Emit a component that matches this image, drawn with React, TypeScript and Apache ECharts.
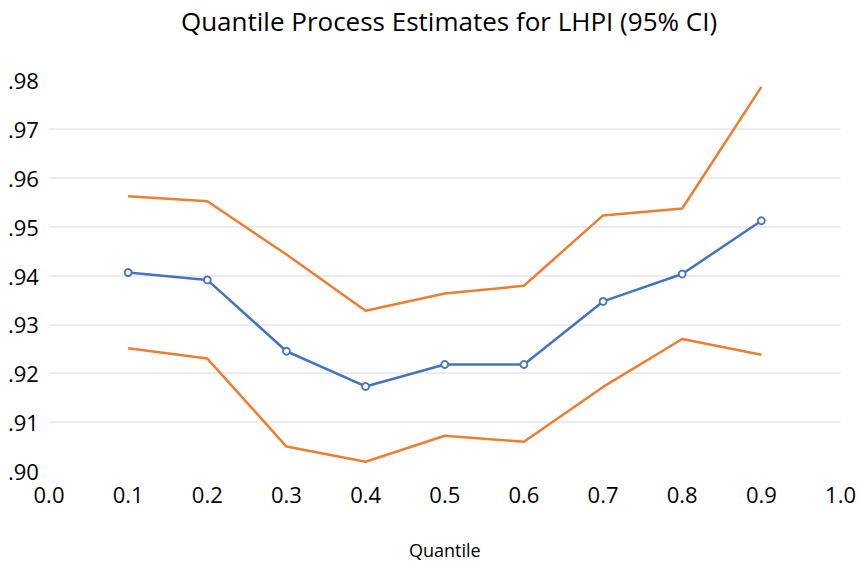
import React, { useEffect, useRef } from "react";
import * as echarts from "echarts";

const quantiles = [0.1, 0.2, 0.3, 0.4, 0.5, 0.6, 0.7, 0.8, 0.9];
const estimate = [0.9406, 0.9391, 0.9245, 0.9173, 0.9218, 0.9218, 0.9347, 0.9403, 0.9512];
const upper = [0.9562, 0.9552, 0.9443, 0.9328, 0.9363, 0.9379, 0.9523, 0.9537, 0.9786];
const lower = [0.9251, 0.9230, 0.9050, 0.9019, 0.9072, 0.9060, 0.9172, 0.9270, 0.9238];

const FONT = "Open Sans";

export default function App() {
  const ref = useRef<HTMLDivElement>(null);
  useEffect(() => {
    if (!ref.current) return;
    const chart = echarts.init(ref.current, null, { renderer: "svg" });
    const pair = (arr: number[]) => quantiles.map((q, i) => [q, arr[i]]);
    chart.setOption({
      animation: false,
      backgroundColor: "#ffffff",
      title: {
        text: "Quantile Process Estimates for LHPI (95% CI)",
        left: 444,
        textAlign: "center",
        top: 3,
        textStyle: { fontFamily: FONT, fontSize: 26, fontWeight: "normal", color: "#000" },
      },
      grid: { left: 49, right: 18, top: 80, bottom: 89.5, containLabel: false },
      xAxis: {
        type: "value",
        min: 0,
        max: 1,
        interval: 0.1,
        name: "Quantile",
        nameLocation: "middle",
        nameGap: 70,
        nameTextStyle: { fontFamily: FONT, fontSize: 18, color: "#000" },
        axisLine: { show: false },
        axisTick: { show: false },
        splitLine: { show: false },
        axisLabel: {
          margin: 12,
          fontFamily: FONT,
          fontSize: 22,
          color: "#000",
          formatter: (v: number) => v.toFixed(1),
        },
      },
      yAxis: {
        type: "value",
        min: 0.9,
        max: 0.98,
        interval: 0.01,
        axisLine: { show: false },
        axisTick: { show: false },
        splitLine: {
          show: true,
          showMinLine: false,
          showMaxLine: false,
          lineStyle: { color: "#e6e6e6", width: 1.5 },
        },
        axisLabel: {
          align: "left",
          margin: 41,
          fontFamily: FONT,
          fontSize: 22,
          color: "#000",
          formatter: (v: number) => "." + Math.round(v * 100).toString().padStart(2, "0"),
        },
      },
      series: [
        {
          name: "Upper",
          type: "line",
          data: pair(upper),
          showSymbol: false,
          symbol: "none",
          lineStyle: { color: "#ED7D31", width: 2.5 },
          itemStyle: { color: "#ED7D31" },
        },
        {
          name: "Lower",
          type: "line",
          data: pair(lower),
          showSymbol: false,
          symbol: "none",
          lineStyle: { color: "#ED7D31", width: 2.5 },
          itemStyle: { color: "#ED7D31" },
        },
        {
          name: "Estimate",
          type: "line",
          data: pair(estimate),
          symbol: "circle",
          symbolSize: 7,
          lineStyle: { color: "#4472C4", width: 2.5 },
          itemStyle: { color: "#ffffff", borderColor: "#4472C4", borderWidth: 1.8 },
        },
      ],
    });
    return () => chart.dispose();
  }, []);
  return <div ref={ref} style={{ width: 859, height: 564, position: "absolute", left: 0, top: 0 }} />;
}
